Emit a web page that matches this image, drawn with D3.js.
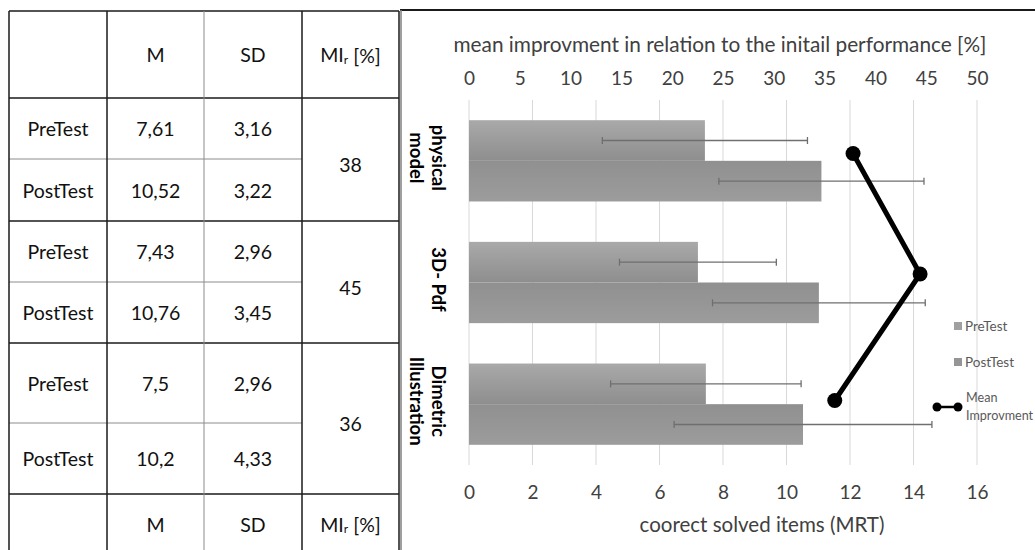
<!DOCTYPE html>
<html>
<head>
<meta charset="utf-8">
<script src="https://cdn.jsdelivr.net/npm/d3@7"></script>
<style>
  body { margin: 0; background: #fff; }
  svg { display: block; }
  text { font-family: Lato, "Open Sans", sans-serif; }
</style>
</head>
<body>
<svg id="c" width="1035" height="550"></svg>
<script>
// ---------- DATA ----------
const categories = ["physical model", "3D- Pdf", "Dimetric Illustration"];
const categoryLines = [["physical", "model"], ["3D- Pdf"], ["Dimetric", "Illustration"]];
const series = ["PreTest", "PostTest"];
const preMeans = [7.43, 7.21, 7.46];
const postMeans = [11.1, 11.02, 10.52];
const preSD = [3.23, 2.47, 3.0];
const postSD = [3.23, 3.35, 4.06];
const meanImprovement = [37.8, 44.4, 36.0];
const improvementPos = [2.56, 1.57, 0.53]; // vertical position on secondary (category) axis
const bottomTicks = [0, 2, 4, 6, 8, 10, 12, 14, 16];
const topTicks = [0, 5, 10, 15, 20, 25, 30, 35, 40, 45, 50];
const legendLabels = ["PreTest", "PostTest", "Mean Improvment"];

// table data
const tableHeader = ["", "M", "SD", "MI"];
const tableRowLabels = ["PreTest", "PostTest", "PreTest", "PostTest", "PreTest", "PostTest"];
const tableM = ["7,61", "10,52", "7,43", "10,76", "7,5", "10,2"];
const tableSD = ["3,16", "3,22", "2,96", "3,45", "2,96", "4,33"];
const tableMI = ["38", "45", "36"];

// ---------- LAYOUT ----------
const svg = d3.select("#c");
const colX = [9, 107, 204, 302, 399];
const rowY = [11, 98, 159, 221, 282, 343, 423, 494, 560];
const dark = "#1a1a1a", light = "#8c8c8c";
const tFont = 19.5, tColor = "#111";

// ---------- TABLE ----------
const tg = svg.append("g");
[1, 3, 5, 7].forEach(i => tg.append("line").attr("x1", colX[0]).attr("x2", colX[4])
  .attr("y1", rowY[i]).attr("y2", rowY[i]).attr("stroke", dark).attr("stroke-width", 1.5));
[2, 4, 6].forEach(i => tg.append("line").attr("x1", colX[0]).attr("x2", colX[3])
  .attr("y1", rowY[i]).attr("y2", rowY[i]).attr("stroke", light).attr("stroke-width", 1));
tg.append("line").attr("x1", colX[0]).attr("x2", colX[4]).attr("y1", rowY[0]).attr("y2", rowY[0])
  .attr("stroke", dark).attr("stroke-width", 1.5);
[0, 1, 3, 4].forEach(i => tg.append("line").attr("x1", colX[i]).attr("x2", colX[i])
  .attr("y1", rowY[0]).attr("y2", 550).attr("stroke", dark).attr("stroke-width", 1.5));
tg.append("line").attr("x1", colX[2]).attr("x2", colX[2]).attr("y1", rowY[0]).attr("y2", 550)
  .attr("stroke", light).attr("stroke-width", 1);

function cellText(col, yc, txt) {
  return tg.append("text").attr("x", (colX[col] + colX[col + 1]) / 2).attr("y", yc)
    .attr("text-anchor", "middle").attr("dominant-baseline", "central")
    .attr("font-size", tFont).attr("fill", tColor).text(txt);
}
function headerRow(yc) {
  tableHeader.forEach((h, i) => {
    if (i === 3) {
      const t = cellText(3, yc, "MI");
      t.append("tspan").attr("font-size", 12).attr("dy", 4).text("r");
      t.append("tspan").attr("dy", -4).text(" [%]");
    } else cellText(i, yc, h);
  });
}
headerRow((rowY[0] + rowY[1]) / 2);
headerRow((rowY[7] + rowY[8]) / 2 - 3);
tableRowLabels.forEach((lab, r) => {
  const yc = (rowY[r + 1] + rowY[r + 2]) / 2;
  cellText(0, yc, lab);
  cellText(1, yc, tableM[r]);
  cellText(2, yc, tableSD[r]);
});
tableMI.forEach((v, g) => cellText(3, (rowY[1 + 2 * g] + rowY[3 + 2 * g]) / 2 + 5, v));

// ---------- CHART ----------
const plotTop = 100, plotBottom = 465, x0 = 469, x1 = 977;
svg.append("line").attr("x1", 400).attr("x2", 1035).attr("y1", 10).attr("y2", 10)
  .attr("stroke", dark).attr("stroke-width", 2);
svg.append("line").attr("x1", 401).attr("x2", 401).attr("y1", 10).attr("y2", 550)
  .attr("stroke", "#7f7f7f").attr("stroke-width", 1.5);

const x = d3.scaleLinear().domain([0, 16]).range([x0, x1]);
const x2 = d3.scaleLinear().domain([0, 50]).range([x0, x1]);
const y = d3.scaleBand().domain(categories).range([plotTop, plotBottom]).paddingInner(0.332).paddingOuter(0.166);
const ys = d3.scaleBand().domain(series).range([0, y.bandwidth()]);
const y2 = d3.scaleLinear().domain([0, 3]).range([plotBottom, plotTop]);

svg.append("g").selectAll("line").data(bottomTicks).join("line")
  .attr("x1", d => x(d)).attr("x2", d => x(d)).attr("y1", plotTop).attr("y2", plotBottom)
  .attr("stroke", "#d9d9d9").attr("stroke-width", 1);

const defs = svg.append("defs");
const gPre = defs.append("linearGradient").attr("id", "gPre").attr("x1", 0).attr("x2", 0).attr("y1", 0).attr("y2", 1);
gPre.append("stop").attr("offset", "0%").attr("stop-color", "#a9a9a9");
gPre.append("stop").attr("offset", "100%").attr("stop-color", "#8e8e8e");
const gPost = defs.append("linearGradient").attr("id", "gPost").attr("x1", 0).attr("x2", 0).attr("y1", 0).attr("y2", 1);
gPost.append("stop").attr("offset", "0%").attr("stop-color", "#909090");
gPost.append("stop").attr("offset", "100%").attr("stop-color", "#9c9c9c");
const fills = { PreTest: "url(#gPre)", PostTest: "url(#gPost)" };

const rows = [];
categories.forEach((c, i) => {
  rows.push({ cat: c, s: "PreTest", v: preMeans[i], sd: preSD[i] });
  rows.push({ cat: c, s: "PostTest", v: postMeans[i], sd: postSD[i] });
});

svg.append("g").selectAll("rect").data(rows).join("rect")
  .attr("x", x(0)).attr("y", d => y(d.cat) + ys(d.s))
  .attr("width", d => x(d.v) - x(0)).attr("height", ys.bandwidth())
  .attr("fill", d => fills[d.s]);

const eb = svg.append("g").attr("stroke", "#6f6f6f").attr("stroke-width", 1.3);
rows.forEach(d => {
  const yc = y(d.cat) + ys(d.s) + ys.bandwidth() / 2;
  eb.append("line").attr("x1", x(d.v - d.sd)).attr("x2", x(d.v + d.sd)).attr("y1", yc).attr("y2", yc);
  [d.v - d.sd, d.v + d.sd].forEach(v => eb.append("line").attr("x1", x(v)).attr("x2", x(v))
    .attr("y1", yc - 3.5).attr("y2", yc + 3.5));
});

const pts = categories.map((c, i) => [x2(meanImprovement[i]), y2(improvementPos[i])]);
svg.append("path").attr("d", d3.line()(pts)).attr("fill", "none")
  .attr("stroke", "#000").attr("stroke-width", 5).attr("stroke-linejoin", "round");
svg.append("g").selectAll("circle").data(pts).join("circle")
  .attr("cx", d => d[0]).attr("cy", d => d[1]).attr("r", 7.5).attr("fill", "#000");

const axB = svg.append("g").attr("transform", `translate(0,${plotBottom})`)
  .call(d3.axisBottom(x).tickValues(bottomTicks).tickSize(0).tickPadding(21));
axB.select(".domain").remove();
axB.selectAll("text").attr("font-size", 19).attr("fill", "#404040").attr("font-family", "Lato");
svg.append("text").attr("x", 762).attr("y", 532).attr("text-anchor", "middle")
  .attr("font-size", 20.5).attr("fill", "#404040").text("coorect solved items (MRT)");

const axT = svg.append("g").attr("transform", `translate(0,${plotTop})`)
  .call(d3.axisTop(x2).tickValues(topTicks).tickSize(0).tickPadding(15));
axT.select(".domain").remove();
axT.selectAll("text").attr("font-size", 19).attr("fill", "#404040").attr("font-family", "Lato");
svg.append("text").attr("x", 720).attr("y", 52).attr("text-anchor", "middle")
  .attr("font-size", 20.8).attr("fill", "#404040").text("mean improvment in relation to the initail performance [%]");

categories.forEach((c, i) => {
  const cy = y(c) + y.bandwidth() / 2 - 3;
  const t = svg.append("text").attr("transform", `translate(438,${cy}) rotate(90)`)
    .attr("text-anchor", "middle").attr("font-family", "'Liberation Sans', Arial, sans-serif")
    .attr("font-weight", "bold").attr("font-size", 18.5).attr("fill", "#000");
  categoryLines[i].forEach((ln, k) => t.append("tspan").attr("x", 0).attr("y", 0).attr("dy", k * 22.5 + 6).text(ln));
});

const lg = svg.append("g").attr("font-size", 13.5).attr("fill", "#595959");
[0, 1].forEach(k => {
  const ly = [326, 362][k];
  lg.append("rect").attr("x", 954).attr("y", ly - 4).attr("width", 8).attr("height", 8)
    .attr("fill", k === 0 ? "#a0a0a0" : "#959595");
  lg.append("text").attr("x", 965).attr("y", ly).attr("dominant-baseline", "central").text(legendLabels[k]);
});
lg.append("line").attr("x1", 937).attr("x2", 958).attr("y1", 407).attr("y2", 407).attr("stroke", "#000").attr("stroke-width", 2.5);
[937, 958].forEach(cx => lg.append("circle").attr("cx", cx).attr("cy", 407).attr("r", 4.5).attr("fill", "#000"));
const lt = lg.append("text").attr("x", 966).attr("y", 397).attr("dominant-baseline", "central").attr("font-size", 12.6);
lt.append("tspan").attr("x", 966).text("Mean");
lt.append("tspan").attr("x", 966).attr("dy", 18).text("Improvment");
</script>
</body>
</html>
